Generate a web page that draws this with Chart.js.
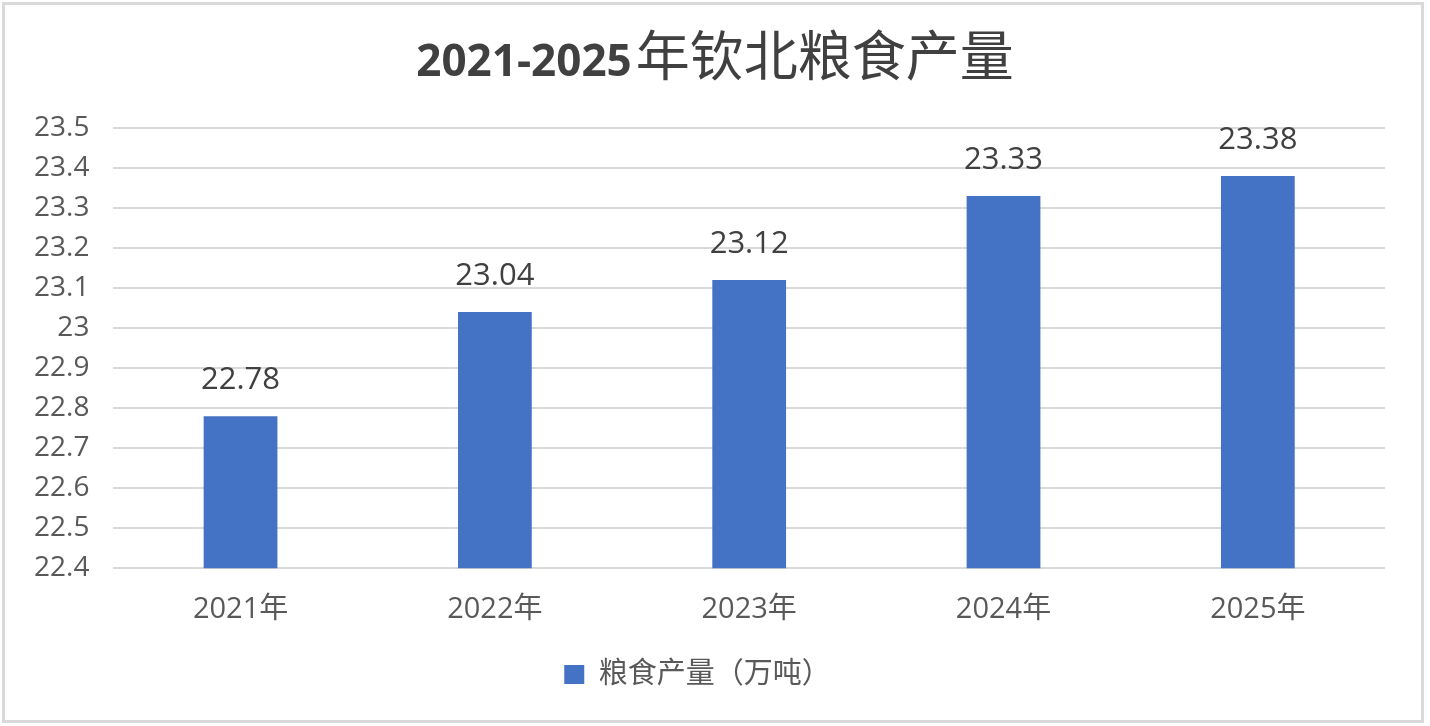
<!DOCTYPE html>
<html>
<head>
<meta charset="utf-8">
<title>2021-2025年钦北粮食产量</title>
<script src="https://cdn.jsdelivr.net/npm/chart.js"></script>
<style>
  body { margin:0; background:#fff; }
  #wrap { position:relative; width:1430px; height:726px; }
  #chart { position:absolute; left:0; top:0; }
  #frame { position:absolute; left:2px; top:2px; width:1422px; height:721px; box-sizing:border-box; border:3px solid #d9d9d9; pointer-events:none; }
</style>
</head>
<body>
<div id="wrap">
  <canvas id="chart" width="1430" height="726"></canvas>
  <div id="frame"></div>
</div>
<script>
// ---------------- Data ----------------
const years = ["2021年", "2022年", "2023年", "2024年", "2025年"];
const grainOutput = [22.78, 23.04, 23.12, 23.33, 23.38];
const yMin = 22.4;
const yMax = 23.5;
const yStep = 0.1;
const titleNum = "2021-2025";
const titleCjk = "年钦北粮食产量";

const FONT = "'Open Sans', 'Noto Sans CJK SC', sans-serif";
const CJK = "'Noto Sans CJK SC', sans-serif";

// title: bold digits + plain CJK, drawn by hand since the title plugin takes one font
const mixedTitle = {
  id: "mixedTitle",
  afterDraw(chart) {
    const ctx = chart.ctx;
    const baseline = 76;
    ctx.save();
    ctx.fillStyle = "#404040";
    ctx.textBaseline = "alphabetic";
    ctx.textAlign = "left";
    ctx.font = "bold 44px " + FONT;
    const numW = ctx.measureText(titleNum).width;
    ctx.font = "54px " + CJK;
    const cjkW = ctx.measureText(titleCjk).width;
    let x = chart.width / 2 - (numW + 4 + cjkW) / 2;
    ctx.font = "bold 44px " + FONT;
    ctx.fillText(titleNum, x, baseline);
    x += numW + 4;
    ctx.font = "54px " + CJK;
    ctx.fillText(titleCjk, x, baseline);
    ctx.restore();
  }
};

// value labels above each bar
const barLabels = {
  id: "barLabels",
  afterDatasetsDraw(chart) {
    const ctx = chart.ctx;
    const meta = chart.getDatasetMeta(0);
    ctx.save();
    ctx.font = "31px " + FONT;
    ctx.fillStyle = "#404040";
    ctx.textAlign = "center";
    ctx.textBaseline = "alphabetic";
    meta.data.forEach((bar, i) => {
      ctx.fillText(grainOutput[i].toFixed(2), bar.x, bar.y - 27);
    });
    ctx.restore();
  }
};

new Chart(document.getElementById("chart"), {
  type: "bar",
  data: {
    labels: years,
    datasets: [{
      label: "粮食产量（万吨）",
      data: grainOutput,
      backgroundColor: "#4472c4",
      barPercentage: 0.29,
      categoryPercentage: 1
    }]
  },
  options: {
    responsive: false,
    animation: false,
    layout: { padding: { left: 10, right: 45, top: 128, bottom: 27 } },
    plugins: {
      title: { display: false },
      legend: {
        position: "bottom",
        labels: {
          color: "#595959",
          font: { family: FONT, size: 29 },
          boxWidth: 20,
          boxHeight: 19,
          padding: 17
        }
      },
      tooltip: { enabled: false }
    },
    scales: {
      x: {
        grid: { display: false },
        border: { display: false },
        ticks: { color: "#595959", font: { family: FONT, size: 29 }, padding: 16 }
      },
      y: {
        min: yMin,
        max: yMax,
        grid: { color: "#d9d9d9", lineWidth: 2, drawTicks: false },
        border: { display: false },
        ticks: {
          stepSize: yStep,
          color: "#595959",
          font: { family: FONT, size: 28 },
          padding: 24,
          callback: v => String(Math.round(v * 10) / 10)
        }
      }
    }
  },
  plugins: [barLabels, mixedTitle]
});
</script>
</body>
</html>
